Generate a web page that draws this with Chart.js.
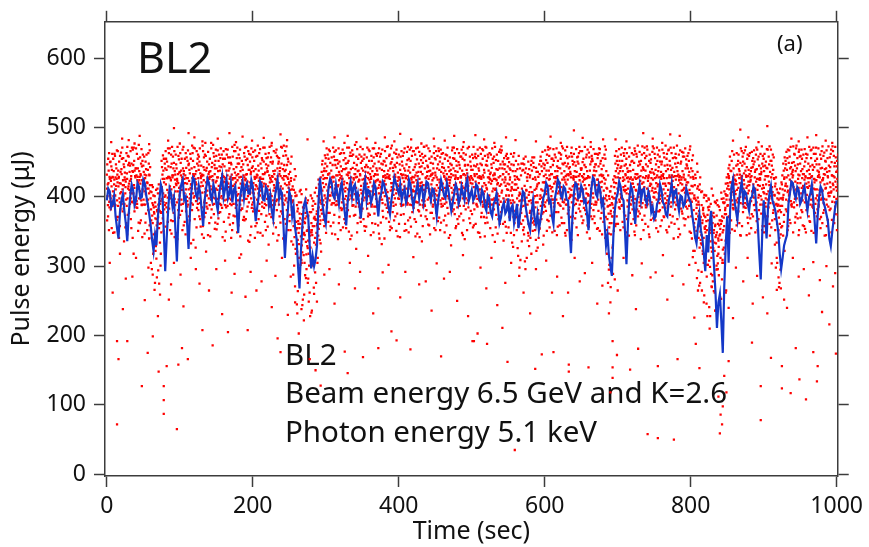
<!DOCTYPE html>
<html>
<head>
<meta charset="utf-8">
<script src="https://cdn.jsdelivr.net/npm/chart.js@4.4.1/dist/chart.umd.min.js"></script>
<style>
  html, body { margin: 0; padding: 0; background: #fff; }
  #wrap { width: 869px; height: 547px; }
</style>
</head>
<body>
<div id="wrap"><canvas id="pulse" width="869" height="547"></canvas></div>
<script>
const xTicks = [0, 200, 400, 600, 800, 1000];
const yTicks = [0, 100, 200, 300, 400, 500, 600];

// blue trace: one value every 2 sec, t = 0 .. 1000
const blueStep = 2;
const blueAvg = [
  395,412,408,385,390,402,372,355,340,378,395,404,380,362,336,375,400,418,410,388,395,420,415,398,400,425,420,402,390,376,360,338,322,345,330,372,395,418,410,352,293,340,380,412,405,386,398,352,307,368,
  405,418,425,396,400,362,325,380,410,428,425,404,398,416,405,380,358,395,412,426,420,402,395,418,410,392,380,405,418,430,400,412,425,398,405,420,392,410,415,380,348,392,410,422,398,415,420,405,405,424,
  415,392,365,384,400,422,418,396,395,414,410,388,402,380,368,398,412,425,398,410,405,360,312,350,380,408,400,372,385,355,340,300,268,322,360,388,395,380,370,330,297,315,300,310,330,392,428,405,385,370,
  361,392,415,426,420,402,398,418,405,390,412,420,395,378,359,392,410,422,400,414,418,396,405,388,369,395,412,425,395,410,408,392,400,420,415,392,372,398,405,422,418,406,400,385,375,396,410,428,420,412,
  405,418,395,406,412,392,400,425,418,400,385,398,410,420,398,412,415,392,405,422,420,405,395,412,410,390,372,395,408,424,415,402,398,420,410,394,380,392,405,418,412,390,398,415,405,396,418,426,395,402,
  410,395,400,418,415,398,392,410,405,386,380,402,398,378,372,390,395,405,385,362,370,385,392,376,380,398,365,384,388,362,375,390,355,372,390,408,405,385,372,360,352,378,395,370,360,375,352,366,380,398,
  405,420,415,392,395,372,361,398,410,425,420,402,398,415,412,396,395,350,319,372,405,420,418,398,400,416,410,392,395,375,352,390,412,428,425,405,400,418,410,388,395,362,330,345,315,300,286,342,380,398,
  405,422,415,398,395,350,303,360,398,416,410,385,361,392,405,418,395,410,412,396,390,408,400,378,385,368,372,390,395,418,410,392,388,375,372,395,405,420,395,408,410,392,380,402,400,386,390,412,405,396,
  392,375,360,342,333,358,375,352,340,318,293,345,320,362,380,335,300,262,211,248,260,220,175,270,330,372,305,380,415,425,395,380,367,392,410,422,395,408,405,390,380,398,400,415,410,385,360,318,281,345,
  395,372,340,385,405,416,395,388,380,365,350,318,296,312,330,338,345,390,405,422,420,405,398,414,410,390,395,408,415,396,380,398,405,418,395,362,333,372,400,415,410,392,385,375,365,340,329,350,368,385,
  395
];

// red shots: sixteen interleaved runs, one value every 5 sec each
const redStep = 5;
const redOffsets = [0, 0.6, 1.2, 1.9, 2.5, 3.1, 3.8, 4.4, 0.3, 0.9, 1.5, 2.2, 2.8, 3.4, 4.1, 4.7];
const redA = [
  432,451,418,466,440,425,458,437,470,429, 445,412,398,376,405,452,441,463,428,447,
  436,472,419,455,443,461,430,478,447,424, 459,438,466,421,449,475,433,452,417,462,
  444,428,469,451,436,457,413,448,471,439, 418,395,402,361,384,352,378,406,425,447,
  456,434,471,442,427,463,449,418,475,438, 452,429,466,444,459,421,437,473,450,432,
  461,445,427,468,439,454,416,472,443,458, 435,466,448,424,457,441,469,430,453,446,
  427,462,438,455,471,433,449,418,464,440, 456,412,437,425,448,409,431,443,418,452,
  446,468,433,457,421,470,444,436,462,451, 439,472,428,455,447,463,431,395,408,421,
  458,444,469,437,452,426,465,441,473,449, 433,461,447,419,468,442,456,430,464,445,
  428,402,415,388,371,396,362,345,381,398, 412,395,431,452,466,438,459,443,471,427,
  455,441,468,402,389,418,452,467,439,474, 448,433,461,456,425,470,442,451,437,466,
  444
];
const redB = [
  447,423,462,438,455,414,449,468,431,457, 436,420,382,401,389,443,466,429,458,441,
  463,437,452,418,470,445,432,459,426,475, 441,456,429,468,447,435,461,424,453,439,
  465,432,448,419,457,474,438,451,427,460, 402,371,388,410,364,395,349,390,418,452,
  437,466,422,453,444,478,431,459,440,425, 469,446,433,457,424,462,451,438,474,443,
  428,459,447,435,466,420,453,441,470,432, 454,439,463,426,448,471,436,458,445,429,
  461,444,430,467,452,425,458,439,473,447, 433,421,452,406,439,428,414,457,436,444,
  467,438,455,429,463,447,472,433,450,458, 441,426,464,452,437,469,445,412,380,430,
  446,471,433,458,425,462,447,439,468,454, 462,437,451,474,428,456,443,467,432,459,
  441,417,393,408,358,386,402,373,354,391, 420,437,408,461,445,472,433,456,440,462,
  437,468,452,415,396,431,447,458,473,441, 459,444,427,468,452,436,473,441,457,430,
  452
];
const redC = [
  418,444,459,427,471,452,436,446,462,433, 458,439,407,392,418,432,455,470,441,426,
  449,426,467,441,433,458,474,438,455,463, 428,470,444,457,432,466,448,439,472,451,
  437,459,426,471,445,430,464,456,440,473, 436,410,379,392,345,373,398,367,404,431,
  470,449,458,431,463,440,452,467,428,461, 438,457,441,470,432,448,466,429,455,462,
  447,432,465,452,428,471,444,459,437,424, 466,451,434,460,439,455,427,468,446,472,
  439,456,471,428,445,461,434,452,467,425, 450,437,418,441,455,423,446,410,429,437,
  432,459,446,470,441,428,456,463,437,448, 466,443,457,431,462,448,427,386,415,459,
  434,452,447,471,439,458,430,463,444,427, 456,443,468,437,452,429,474,448,458,441,
  416,432,389,366,402,348,377,395,366,408, 433,452,419,440,458,429,463,447,468,441,
  462,430,445,419,405,396,465,441,450,456, 437,469,448,430,462,447,425,467,443,459,
  438
];
const redD = [
  455,439,428,451,417,463,445,471,424,448, 432,463,417,386,397,460,439,427,449,472,
  438,455,446,474,421,451,466,442,437,458, 467,443,455,438,472,421,456,447,433,461,
  452,474,441,435,463,448,425,437,459,446, 448,425,383,404,369,356,387,413,392,426,
  444,423,465,448,437,456,471,442,458,433, 455,471,429,448,463,439,427,459,442,468,
  439,464,453,471,443,436,462,427,455,448, 428,457,442,471,433,463,450,438,461,427,
  456,433,448,439,461,447,472,428,441,459, 441,458,429,395,447,433,452,428,420,465,
  453,426,469,444,455,437,448,471,429,463, 450,457,438,469,425,452,461,431,391,448,
  469,437,455,446,461,433,452,471,427,440, 439,467,430,455,445,471,437,451,425,463,
  453,427,410,381,394,366,352,388,406,375, 441,466,423,437,451,443,428,467,454,436,
  445,458,433,428,381,448,439,472,462,447, 468,451,439,446,471,428,459,436,462,444,
  461
];
const redE = [
  438,462,447,420,456,434,466,452,441,469, 427,448,391,410,380,438,451,443,466,433,
  455,431,448,463,437,470,443,451,429,446, 437,461,426,449,458,443,468,431,455,436,
  429,445,456,462,431,451,468,442,474,428, 427,440,361,375,398,336,382,375,395,437,
  461,438,453,470,426,448,435,461,446,472, 426,443,459,433,451,468,445,461,437,449,
  458,441,472,425,461,448,433,452,466,441, 441,468,429,452,446,437,463,455,427,458,
  472,447,462,435,457,442,426,465,451,436, 428,446,440,431,416,451,438,425,447,421,
  438,470,452,437,461,449,433,458,445,472, 428,461,447,438,456,432,473,376,400,437,
  452,428,463,437,449,474,438,456,431,465, 447,458,433,462,471,436,449,428,470,452,
  437,395,418,376,342,390,334,361,397,384, 427,418,445,432,463,455,437,451,426,473,
  430,447,461,390,412,438,456,443,461,432, 455,428,472,439,447,461,433,456,468,449,
  435
];
const redF = [
  463,428,441,459,447,472,426,438,455,444, 451,432,414,368,390,455,427,461,437,459,
  428,463,439,452,466,434,457,428,470,441, 452,433,469,441,427,456,437,463,446,470,
  467,438,453,447,472,437,459,430,446,455, 458,406,392,367,411,378,394,359,428,441,
  432,457,446,436,468,441,459,427,469,449, 461,435,452,423,470,447,456,441,429,457,
  433,470,438,459,447,465,449,474,438,463, 459,436,455,443,467,428,446,472,439,451,
  445,468,426,459,438,470,453,441,433,462, 439,463,426,448,435,403,457,442,433,448,
  461,443,428,452,434,467,441,452,469,433, 455,437,472,443,461,440,455,401,372,466,
  437,463,441,428,470,445,461,438,452,473, 428,451,463,446,439,457,432,465,441,436,
  460,384,428,399,374,352,393,337,372,419, 446,428,463,449,434,461,442,436,458,448,
  451,473,439,411,398,426,468,433,445,465, 440,462,433,471,455,441,464,428,450,472,
  457
];
const redG = [
  429,455,467,436,443,459,448,430,475,452, 440,467,402,381,394,426,470,448,432,454,
  468,442,434,471,448,427,439,465,443,452, 461,447,438,457,440,471,429,458,466,442,
  440,463,433,456,427,466,441,472,437,451, 411,430,355,385,372,349,369,401,412,460,
  455,428,467,451,440,432,464,449,437,458, 443,468,437,462,441,429,472,448,464,435,
  466,438,455,429,470,443,457,436,449,473, 447,462,438,429,471,452,441,463,434,444,
  433,459,446,472,428,455,440,468,447,455, 462,430,447,412,458,440,426,436,452,430,
  449,433,461,442,473,430,458,447,436,466, 433,468,451,462,444,430,468,397,425,452,
  442,459,436,451,466,429,473,447,461,435, 471,429,457,440,463,448,461,437,454,468,
  426,448,371,403,385,412,360,386,349,402, 458,441,432,470,448,430,465,439,445,459,
  442,436,457,398,378,457,431,449,437,468, 433,456,444,462,438,455,440,473,431,457,
  448
];
const redH = [
  450,437,432,464,428,446,471,441,437,461, 461,443,385,412,377,448,444,472,461,435,
  441,457,462,430,455,445,461,433,449,468, 444,455,461,429,466,448,443,471,439,457,
  458,427,471,441,450,433,457,448,466,433, 394,364,408,346,391,402,358,383,436,448,
  468,446,431,462,453,471,440,433,455,441, 436,452,470,441,458,452,433,470,446,428,
  451,427,443,466,435,459,472,445,432,456, 470,443,461,437,456,445,458,433,470,439,
  458,441,469,446,463,431,461,447,456,444, 447,425,459,438,441,428,449,415,458,441,
  472,455,437,464,448,459,443,430,457,441, 446,430,459,447,470,456,437,408,384,441,
  461,445,428,463,433,451,443,459,436,470, 452,436,445,467,431,462,428,458,447,473,
  398,436,407,354,398,373,391,344,392,428, 438,461,447,428,467,439,452,461,433,444,
  469,452,426,406,421,441,449,436,470,458, 461,437,467,443,429,466,452,445,473,436,
  470
];
const redI = [
  412,398,425,387,433,405,419,392,441,408, 396,421,352,338,371,414,402,428,389,417,
  406,433,394,418,401,427,385,412,436,399, 423,390,409,431,396,418,404,383,426,411,
  392,415,428,401,437,388,413,420,397,430, 374,331,355,312,348,326,362,341,385,409,
  418,395,429,406,384,422,411,398,433,402, 425,409,391,416,438,400,423,387,414,429,
  397,427,412,389,421,405,436,394,418,408, 431,403,419,392,424,410,385,428,401,416,
  408,422,395,431,413,389,426,404,418,393, 385,402,371,394,366,399,380,375,392,411,
  421,398,414,427,389,410,432,403,417,395, 409,426,393,418,404,431,398,352,376,414,
  428,401,416,393,425,409,387,421,412,435, 399,418,431,405,390,423,411,397,428,406,
  388,356,372,331,349,308,337,295,346,370, 402,421,389,413,430,398,417,406,392,425,
  413,396,428,368,352,387,419,404,431,398, 420,407,392,429,411,386,424,413,401,417,
  409
];
const redJ = [
  401,427,389,415,398,422,410,436,394,419, 425,390,366,347,382,397,418,405,431,392,
  415,398,427,391,412,439,406,421,388,424, 397,416,422,405,388,427,413,395,432,404,
  420,396,409,433,415,401,426,389,412,398, 396,358,321,343,305,337,352,368,398,420,
  392,414,428,403,419,397,435,410,386,424, 408,396,421,430,393,414,401,427,410,389,
  425,410,394,418,399,430,413,387,426,402, 396,421,408,433,390,417,426,404,412,395,
  419,401,427,389,411,435,398,420,406,428, 402,386,410,363,387,372,395,360,381,399,
  392,425,408,396,420,413,389,428,404,418, 430,398,417,405,392,421,409,368,346,398,
  410,388,431,404,419,396,423,412,390,418, 427,405,394,416,431,401,388,420,412,395,
  372,398,341,362,318,355,326,349,312,358, 388,412,425,396,407,431,393,418,426,401,
  405,430,398,352,370,411,396,425,414,388, 398,425,413,404,390,432,409,396,421,411,
  426
];
const redK = [
  388,415,402,429,411,396,423,405,390,431, 408,396,341,369,355,426,391,415,402,423,
  431,405,389,412,426,398,416,391,429,407, 410,427,395,419,402,390,428,411,397,421,
  405,431,414,390,399,422,408,433,391,417, 410,377,338,309,362,318,345,331,372,395,
  427,402,391,415,430,408,396,421,413,389, 395,419,408,386,425,412,431,398,420,405,
  412,389,430,403,415,392,421,408,399,434, 409,425,397,412,428,391,403,420,431,398,
  425,390,411,404,392,419,432,396,409,416, 418,395,380,404,356,389,368,401,376,392,
  408,431,396,419,405,392,425,410,398,430, 394,412,428,399,417,406,390,331,362,405,
  419,397,410,426,401,433,396,414,423,392, 412,428,403,391,419,408,430,396,413,421,
  393,341,380,322,365,299,348,315,361,392, 416,395,404,427,390,413,422,399,410,433,
  425,408,414,389,341,399,428,411,392,420, 405,392,421,417,398,410,427,389,414,400,
  418
];
const redL = [
  420,393,411,398,424,387,406,417,429,395, 389,412,373,329,361,405,427,398,414,408,
  396,420,411,427,394,408,431,402,415,390, 428,401,388,414,425,407,396,419,410,433,
  399,412,421,404,388,429,394,410,425,407, 423,342,365,330,377,301,358,348,361,388,
  409,425,398,417,392,413,427,388,406,431, 419,390,426,404,413,396,418,431,392,410,
  402,422,391,427,408,416,395,428,411,389, 417,395,430,401,413,426,391,415,398,424,
  391,414,402,420,428,396,410,389,425,402, 425,371,398,382,405,348,391,385,366,409,
  404,416,391,430,398,425,407,392,421,412, 422,405,394,426,410,392,419,387,372,428,
  396,423,405,390,414,427,402,396,429,409, 407,391,419,427,402,414,395,425,406,431,
  405,368,327,384,352,336,371,304,338,381, 430,407,395,420,412,389,424,408,417,396,
  391,422,407,376,361,403,415,394,409,426, 413,430,400,388,424,403,391,419,406,428,
  399
];
const redM = [
  407,429,416,392,402,426,398,413,421,389, 416,405,362,350,334,392,410,424,397,420,
  410,392,423,405,418,391,424,409,396,433, 391,412,427,398,416,431,389,405,422,398,
  426,405,392,418,410,395,421,404,430,392, 401,365,348,320,335,352,312,379,366,414,
  398,420,412,393,426,401,418,396,429,410, 412,427,398,421,405,391,410,426,403,418,
  390,415,425,398,431,402,388,419,405,427, 402,418,390,425,396,431,411,398,424,405,
  414,397,429,408,390,423,412,401,433,396, 395,410,388,377,398,361,407,392,354,395,
  427,390,419,405,414,396,431,402,390,424, 411,427,402,389,425,414,398,347,389,420,
  393,414,427,400,391,418,410,427,395,413, 420,397,411,395,428,392,417,409,425,398,
  415,376,358,341,302,327,322,340,365,404, 411,389,418,400,424,416,394,428,399,412,
  398,417,391,334,387,364,407,422,397,413, 427,398,416,395,411,421,397,430,408,392,
  412
];
const redN = [
  393,408,426,405,417,398,430,391,412,424, 404,431,388,359,378,421,399,411,425,396,
  425,411,398,433,403,415,392,427,411,398, 416,398,411,426,390,402,419,428,401,413,
  411,423,399,388,421,409,396,415,402,426, 385,401,332,356,317,344,303,361,381,402,
  433,406,417,424,397,389,411,425,400,416, 399,414,389,432,417,406,428,392,411,423,
  418,399,412,421,393,426,404,413,430,395, 425,390,413,398,406,419,395,432,409,420,
  398,428,406,395,421,408,391,416,398,411, 409,392,413,386,372,394,363,412,397,378,
  395,412,428,391,406,421,398,415,429,403, 399,391,412,431,396,422,425,356,330,392,
  427,410,395,412,428,400,419,388,408,425, 396,413,427,401,392,430,405,418,393,410,
  429,389,350,373,331,312,358,328,305,375, 396,427,410,391,418,405,430,412,403,389,
  418,401,392,361,346,428,409,390,422,404, 395,419,427,412,402,396,418,405,431,422,
  404
];
const redO = [
  426,401,395,419,390,412,405,428,398,411, 431,417,346,379,362,400,429,392,408,413,
  390,427,404,399,412,430,395,418,402,421, 405,430,396,390,411,424,402,397,415,389,
  417,390,426,411,404,417,430,398,419,413, 392,318,376,339,351,327,334,356,390,427,
  414,391,405,432,411,420,402,415,391,405, 430,401,415,397,422,430,395,409,425,398,
  405,431,401,410,424,389,417,430,392,412, 390,410,426,416,399,404,421,387,416,430,
  430,409,393,417,402,396,424,430,392,419, 391,418,358,401,389,407,381,370,402,388,
  416,401,397,414,425,389,412,427,396,408, 425,404,390,415,408,389,402,362,398,402,
  404,425,412,419,397,405,391,430,416,400, 431,402,390,410,417,399,424,391,417,405,
  381,412,333,356,366,321,342,359,324,396, 421,403,392,415,399,422,408,390,425,417,
  404,391,427,387,356,409,394,417,400,431, 416,403,389,426,395,408,432,401,393,414,
  391
];
const redP = [
  402,390,421,407,435,415,393,400,424,417, 395,408,378,363,349,388,406,431,419,402,
  419,400,413,425,390,421,407,398,430,412, 399,421,414,407,427,395,410,424,392,406,
  428,402,415,397,425,391,412,405,395,421, 415,353,369,316,329,307,371,344,376,398,
  402,429,394,411,418,395,428,404,422,397, 406,425,403,412,396,419,407,420,398,416,
  431,396,419,408,392,420,410,396,418,404, 413,398,402,420,431,396,428,413,395,407,
  403,420,415,392,426,412,405,393,421,410, 414,380,402,395,410,377,398,402,387,421,
  410,396,422,408,393,418,400,425,411,394, 417,402,421,393,411,397,413,388,351,412,
  399,408,422,395,410,392,428,401,419,406, 415,426,398,420,409,425,393,410,421,396,
  362,399,345,315,381,287,333,366,352,341, 405,418,398,426,391,409,401,422,416,407,
  430,412,403,379,398,416,402,428,411,395, 409,414,396,421,430,398,412,406,419,397,
  425
];

// weaker shots below the main band, one value every 5 sec each
const haloOffsets = [1.7, 3.6, 0.4, 2.9];
const haloA = [
  372,355,388,341,379,362,390,318,384,366, 347,381,296,322,275,369,385,352,377,339,
  389,364,348,381,327,372,358,386,343,375, 361,388,337,370,352,384,312,367,379,345,
  383,349,375,364,331,388,356,372,340,381, 352,301,264,238,287,249,312,276,338,367,
  385,358,374,339,381,362,350,387,325,370, 368,383,345,376,359,332,389,364,378,351,
  342,375,389,357,368,381,336,372,359,386, 377,352,366,384,330,375,361,348,382,369,
  356,388,342,371,363,379,335,368,384,357, 371,328,352,309,346,337,318,352,341,376,
  380,356,372,345,387,362,376,338,369,383, 362,375,340,381,354,369,383,276,312,358,
  385,364,349,377,368,382,339,373,357,388, 366,379,385,352,374,340,368,383,359,371,
  340,305,272,318,246,228,264,296,253,318, 371,353,384,362,378,345,369,388,352,376,
  358,385,366,298,276,344,379,362,385,369, 381,354,372,386,349,368,377,358,383,362,
  374
];
const haloB = [
  385,348,367,382,336,374,355,389,363,342, 376,359,318,284,301,382,364,347,388,370,
  352,379,366,338,384,357,371,345,382,363, 377,342,385,360,373,349,381,366,337,384,
  358,380,344,373,386,362,337,379,368,352, 381,325,281,252,296,228,269,305,321,373,
  364,347,388,371,356,384,339,373,362,380, 351,376,362,386,340,371,384,357,366,343,
  387,361,349,378,364,342,385,368,377,355, 365,386,373,341,379,358,387,366,352,380,
  382,349,377,362,386,345,374,361,337,386, 348,362,315,336,296,329,351,322,364,344,
  367,386,351,378,362,344,385,372,356,379, 384,359,372,362,380,346,371,302,289,372,
  352,378,386,361,345,379,367,385,342,369, 379,358,371,387,363,382,354,376,386,350,
  322,283,338,258,302,271,236,287,309,265, 348,382,367,344,385,362,375,349,381,358,
  372,344,381,305,268,322,358,386,371,352, 359,381,364,348,382,371,344,386,367,375,
  361
];
const haloC = [
  366,382,349,371,390,356,377,341,385,362, 389,352,305,266,294,378,357,383,365,348,
  374,359,386,333,368,381,346,377,362,389, 353,378,364,387,341,372,359,383,368,335,
  379,362,348,384,357,371,389,345,376,361, 365,288,245,302,259,276,233,291,354,382,
  348,377,363,389,352,368,381,344,374,386, 383,357,374,349,386,363,340,378,355,372,
  361,388,352,370,384,347,373,389,360,377, 352,370,387,359,345,382,368,376,339,385,
  375,361,348,386,370,355,382,347,378,364, 356,334,371,298,352,312,341,365,327,368,
  386,365,349,378,359,383,352,371,388,345, 372,381,357,368,389,351,364,318,270,378,
  361,387,373,344,382,359,376,352,388,367, 378,350,366,384,357,372,389,346,369,383,
  348,322,294,265,312,241,278,301,255,327, 387,366,351,379,358,384,347,372,365,389,
  349,372,356,331,284,358,382,367,349,376, 370,358,386,351,377,389,362,345,381,366,
  352
];
const haloD = [
  352,387,371,358,383,346,368,379,351,388, 363,340,288,311,259,351,378,366,342,381,
  380,346,372,389,356,368,341,383,370,354, 369,384,350,375,362,388,343,371,386,357,
  341,368,386,352,375,347,381,363,389,372, 336,271,312,244,283,262,301,249,333,358,
  377,389,346,362,383,355,372,388,349,364, 358,372,386,361,347,380,369,352,387,376,
  374,351,366,388,343,379,358,381,346,369, 388,363,349,376,384,355,372,345,391,362,
  359,386,371,343,377,389,356,372,361,348, 380,345,326,361,307,344,369,338,355,331,
  351,373,386,357,370,348,381,362,377,389, 366,349,384,372,355,377,341,295,327,361,
  383,356,368,389,350,372,385,361,346,379, 355,381,372,349,386,361,342,379,368,387,
  313,351,276,305,228,289,262,318,281,337, 372,384,359,345,386,370,355,381,368,352,
  386,361,377,312,295,374,352,388,363,345, 378,349,365,384,372,355,381,367,349,386,
  370
];

// scattered single shots [time, energy]
const lowShots = [
  [14,72],[48,127],[78,127],[78,107],[78,87],[96,65],[16,166],[82,156],[98,158],[111,166],
  [14,192],[416,180],[351,169],[326,177],[330,146],[503,192],[263,203],[278,166],[390,206],[397,193],
  [234,196],[193,208],[166,205],[131,208],[28,192],[63,199],[559,35],[741,58],[755,52],[777,50],
  [840,59],[843,72],[841,86],[844,98],[838,112],[958,108],[937,117],[949,137],[896,78],[896,127],
  [974,156],[973,134],[549,162],[633,158],[633,148],[693,154],[693,139],[693,192],[660,154],[717,151],
  [755,156],[782,166],[812,153],[925,124],[925,156],[990,216],[508,203],[542,211],[596,173],[501,192],
  [8,262],[22,238],[35,285],[52,251],[70,228],[88,274],[105,242],[122,296],[140,265],[158,231],
  [175,289],[190,256],[212,278],[226,241],[248,230],[258,248],[270,222],[284,260],[298,288],[312,246],
  [340,268],[365,232],[378,291],[402,255],[428,274],[445,236],[462,282],[480,250],[495,228],[520,268],
  [535,244],[565,286],[580,232],[610,262],[625,228],[648,278],[672,246],[688,232],[700,265],[725,238],
  [745,284],[768,252],[790,274],[805,226],[818,248],[826,210],[834,236],[848,262],[858,225],[872,278],
  [885,246],[905,232],[918,266],[932,240],[948,285],[962,258],[980,234],[995,271],
  [4,305],[18,318],[26,282],[40,312],[57,298],[66,276],[74,318],[85,252],[92,305],[101,288],
  [115,312],[127,275],[136,321],[150,296],[162,308],[171,262],[184,317],[197,292],[205,265],[219,308],
  [231,286],[240,312],[252,285],[261,232],[267,305],[276,282],[281,236],[289,312],[305,296],[318,274],
  [333,305],[347,292],[358,315],[372,268],[386,302],[409,292],[420,313],[437,278],[452,304],[470,292],
  [488,316],[512,298],[527,312],[546,276],[554,305],[571,262],[588,296],[602,308],[617,285],[632,262],
  [641,312],[655,290],[665,305],[679,272],[690,248],[696,281],[708,312],[720,287],[733,304],[752,291],
  [762,316],[775,286],[798,302],[810,265],[815,292],[822,285],[829,270],[837,296],[845,305],[852,240],
  [862,298],[878,312],[891,286],[899,255],[911,304],[921,270],[928,252],[940,312],[955,296],[968,306],
  [977,280],[986,300],[998,290],
  [56,175],[71,148],[103,182],[145,186],[238,176],[286,150],[293,128],[372,182],[458,170],[521,188],
  [587,152],[612,176],[690,118],[699,172],[728,181],[807,188],[846,142],[849,118],[852,163],[884,190],
  [910,168],[944,182],[968,176],[999,174]
];
const highShots = [
  [58,476],[92,499],[120,486],[168,492],[215,485],[275,483],[330,488],[402,491],[448,484],[505,489],
  [560,482],[608,487],[640,496],[680,483],[735,492],[785,488],[868,497],[905,502],[960,486],[985,481],
  [30,482],[143,478],
  [6,479],[21,484],[38,477],[45,488],[84,481],[100,477],[112,492],[131,480],[152,484],[177,479],
  [186,487],[199,481],[226,478],[238,490],[247,482],[297,480],[312,486],[342,479],[356,484],[368,478],
  [381,486],[394,480],[417,483],[431,477],[463,481],[476,488],[489,479],[517,483],[531,478],[547,486],
  [588,480],[622,478],[652,485],[663,479],[697,483],[712,480],[748,484],[761,478],[772,490],[858,481],
  [879,486],[893,479],[938,484],[948,480],[972,489],[994,478]
];

const fontFamily = '"Noto Sans", "DejaVu Sans", sans-serif';
const axisColor = "#3c3c3c";

const redRuns = [redA, redB, redC, redD, redE, redF, redG, redH, redI, redJ, redK, redL, redM, redN, redO, redP];
const haloRuns = [haloA, haloB, haloC, haloD];
const redPoints = redRuns.flatMap((run, k) => run.map((v, i) => ({ x: i * redStep + redOffsets[k], y: v })));
haloRuns.forEach((run, k) => run.forEach((v, i) => redPoints.push({ x: i * redStep + haloOffsets[k], y: v })));
lowShots.concat(highShots).forEach(([t, v]) => redPoints.push({ x: t, y: v }));
const bluePoints = blueAvg.map((v, i) => ({ x: i * blueStep, y: v }));

const notes = ["BL2", "Beam energy 6.5 GeV and K=2.6", "Photon energy 5.1 keV"];

const labels = {
  id: "labels",
  beforeDatasetsDraw(chart) {
    const ctx = chart.ctx;
    ctx.save();
    ctx.fillStyle = "#111";
    ctx.textBaseline = "alphabetic";
    ctx.font = '43px "Noto Sans", sans-serif';
    ctx.fillText("BL2", 137, 73);
    ctx.font = "22px " + fontFamily;
    ctx.fillText("(a)", 777, 51);
    ctx.font = "26px " + fontFamily;
    const size = 26 * 442 / ctx.measureText(notes[1]).width;
    ctx.font = size.toFixed(1) + "px " + fontFamily;
    notes.forEach((line, i) => ctx.fillText(line, 285, [365, 403, 442][i]));
    ctx.restore();
  },
};

function axis(position, ticks, range, size, showLabels, title) {
  const horizontal = position === "top" || position === "bottom";
  return {
    type: "linear",
    position,
    min: range[0],
    max: range[1],
    afterBuildTicks: (s) => { s.ticks = ticks.map((v) => ({ value: v })); },
    afterFit: (s) => { if (horizontal) s.height = size; else s.width = size; },
    grid: { drawOnChartArea: false, drawTicks: true, tickLength: 11, tickColor: axisColor, tickWidth: 1.5 },
    border: { display: true, color: axisColor, width: 1.5 },
    ticks: {
      display: true,
      color: "#111",
      padding: horizontal ? 6 : 8,
      maxRotation: 0,
      font: { family: fontFamily, size: 23 },
      callback: (v) => (showLabels ? String(v) : ""),
    },
    title: title
      ? { display: true, text: title, color: "#111", font: { family: fontFamily, size: 25 }, padding: horizontal ? { bottom: 0 } : { top: 7 } }
      : { display: false },
  };
}

new Chart(document.querySelector("#pulse"), {
  type: "scatter",
  data: {
    datasets: [
      {
        type: "line",
        data: bluePoints,
        borderColor: "#1438c8",
        borderWidth: 2.2,
        pointRadius: 0,
        tension: 0,
        order: 0,
      },
      {
        data: redPoints,
        backgroundColor: "#ff0000",
        borderWidth: 0,
        pointStyle: "rect",
        pointRadius: 1.6,
        order: 1,
      },
    ],
  },
  options: {
    responsive: false,
    animation: false,
    layout: { padding: 0 },
    plugins: { legend: { display: false }, tooltip: { enabled: false } },
    scales: {
      x: axis("bottom", xTicks, [-2.5, 1001.5], 71, true, "Time (sec)"),
      x2: axis("top", xTicks, [-2.5, 1001.5], 20.7, false, null),
      y: axis("left", yTicks, [-2.5, 652.5], 105, true, "Pulse energy (\u03bcJ)"),
      y2: axis("right", yTicks, [-2.5, 652.5], 30.3, false, null),
    },
  },
  plugins: [labels],
});
</script>
</body>
</html>
